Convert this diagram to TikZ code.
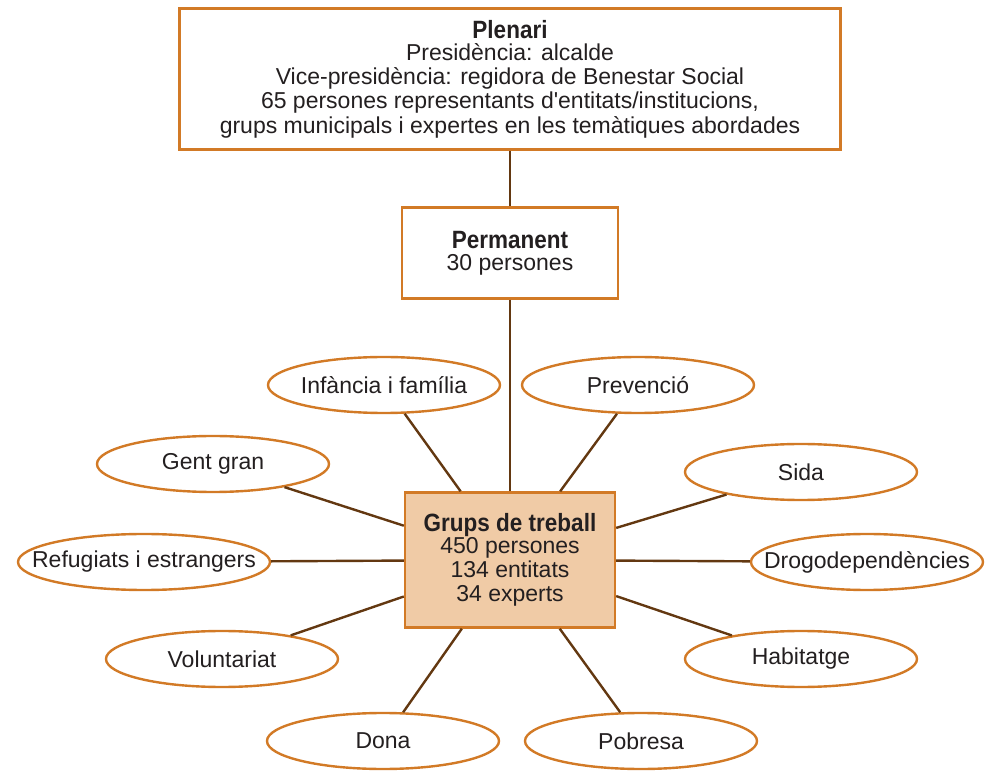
\documentclass[tikz,border=0pt]{standalone}
\usepackage{fontspec}
\setmainfont{Liberation Sans}
\newfontfamily\titlefont[FakeStretch=0.9]{Liberation Sans}
\usetikzlibrary{shapes.geometric, positioning}

\definecolor{vora}{HTML}{D27A26}
\definecolor{linia}{HTML}{633811}
\definecolor{fons}{HTML}{F0CBA6}
\definecolor{lletra}{HTML}{231F20}

\newcommand{\titol}[1]{{\titlefont\bfseries\fontsize{12.5}{13}\selectfont #1}}
\newcommand{\tema}[1]{\makebox[0pt]{#1}}

\tikzset{
    caixa/.style={draw=vora, line width=1.2pt, fill=white, align=center,
        text=lletra, inner sep=0pt, font=\fontsize{11.5}{12.1}\selectfont},
    tema/.style={ellipse, draw=vora, line width=1.2pt, fill=white,
        minimum width=116pt, minimum height=28pt, inner sep=0pt,
        text=lletra, font=\fontsize{11.5}{12}\selectfont},
    enllac/.style={draw=linia, line width=1.2pt},
}

\begin{document}
\begin{tikzpicture}[x=0.5pt, y=-0.5pt]
    \useasboundingbox (0,0) rectangle (985,774);
    % Central group
    \node [caixa, fill=fons, minimum width=105pt, minimum height=67.5pt] (grups) at (510,560)
        {\titol{Grups de treball}\\[-1pt] 450 persones\\ 134 entitats\\ 34 experts};
    \node [caixa, minimum width=108pt, minimum height=45.5pt, above=95.8pt of grups] (permanent)
        {\titol{Permanent}\\[-1pt] 30 persones};
    \node [caixa, minimum width=330.5pt, minimum height=70.5pt, above=27.8pt of permanent] (plenari)
        {\titol{Plenari}\\[-1pt] Presidència: alcalde\\ Vice-presidència: regidora de Benestar Social\\
         65 persones representants d\textquotesingle entitats/institucions,\\
         grups municipals i expertes en les temàtiques abordades};

    % Working groups
    \node [tema] (infancia) at (384,385) {\tema{Infància i família}};
    \node [tema] (prevencio) at (638,385) {\tema{Prevenció}};
    \node [tema] (gentgran) at (213,464) {\tema{Gent gran}};
    \node [tema] (sida) at (801,472) {\tema{Sida}};
    \node [tema, minimum width=126pt] (refugiats) at (144,562) {\tema{Refugiats i estrangers}};
    \node [tema] (drogues) at (867,562) {\tema{Drogodependències}};
    \node [tema] (voluntariat) at (222,659) {\tema{Voluntariat}};
    \node [tema] (habitatge) at (801,659) {\tema{Habitatge}};
    \node [tema] (dona) at (383,741) {\tema{Dona}};
    \node [tema] (pobresa) at (641,741) {\tema{Pobresa}};

    \draw [enllac] (plenari) -- (permanent);
    \draw [enllac] (permanent) -- (grups);
    \foreach \t in {infancia, prevencio, gentgran, sida, refugiats,
                    drogues, voluntariat, habitatge, dona, pobresa}
        \draw [enllac] (\t) -- (grups);
\end{tikzpicture}
\end{document}
